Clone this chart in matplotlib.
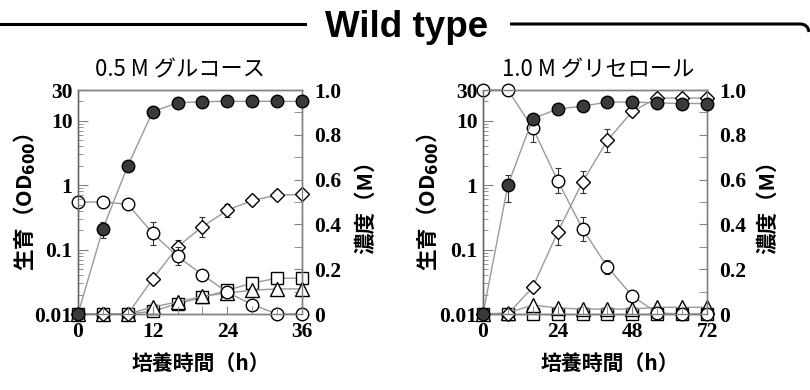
import matplotlib
matplotlib.use('Agg')
import matplotlib.pyplot as plt
import numpy as np
from matplotlib.ticker import LogLocator, MultipleLocator, NullFormatter
from matplotlib.path import Path
from matplotlib.patches import PathPatch

plt.rcParams['font.family'] = ['Noto Sans CJK JP', 'DejaVu Sans']

# ---------------- data: left panel (0.5 M glucose) ----------------
glc_time = [0, 4, 8, 12, 16, 20, 24, 28, 32, 36]
glc_od = [0.01, 0.21, 2.0, 13.8, 19.0, 19.8, 20.0, 20.0, 20.0, 20.0]
glc_od_err = [0, 0.06, 0.15, 0, 0, 0, 0, 0, 0, 0]
glc_circle = [0.50, 0.50, 0.49, 0.36, 0.257, 0.175, 0.097, 0.042, 0.0, 0.0]
glc_circle_err = [0, 0, 0.01, 0.05, 0.04, 0.02, 0.015, 0.02, 0, 0]
glc_diamond = [0.0, 0.0, 0.0, 0.156, 0.30, 0.39, 0.463, 0.507, 0.53, 0.534]
glc_diamond_err = [0, 0, 0, 0.01, 0.03, 0.045, 0.03, 0.02, 0.01, 0.01]
glc_square = [0.0, 0.0, 0.0, 0.012, 0.046, 0.074, 0.106, 0.138, 0.16, 0.16]
glc_triangle = [0.0, 0.0, 0.0, 0.031, 0.054, 0.079, 0.094, 0.106, 0.112, 0.112]

# ---------------- data: right panel (1.0 M glycerol) ----------------
gly_time = [0, 8, 16, 24, 32, 40, 48, 56, 64, 72]
gly_od = [0.01, 1.0, 10.8, 15.2, 16.8, 19.5, 19.5, 18.9, 18.5, 18.5]
gly_od_err = [0, 0.45, 0, 0, 0, 0, 0, 0, 0, 0]
gly_circle = [1.0, 1.0, 0.83, 0.595, 0.38, 0.21, 0.08, 0.005, 0.0, 0.0]
gly_circle_err = [0, 0, 0.06, 0.055, 0.055, 0.03, 0.01, 0, 0, 0]
gly_diamond = [0.0, 0.0, 0.12, 0.365, 0.59, 0.775, 0.905, 0.964, 0.964, 0.964]
gly_diamond_err = [0, 0, 0.01, 0.055, 0.05, 0.05, 0.02, 0, 0, 0]
gly_square = [0.0, 0.0, 0.0, 0.0, 0.0, 0.0, 0.0, 0.0, 0.0, 0.0]
gly_triangle = [0.0, 0.005, 0.04, 0.027, 0.022, 0.022, 0.022, 0.03, 0.03, 0.03]

glc_xticks = [0, 12, 24, 36]
gly_xticks = [0, 24, 48, 72]
od_ticks = [0.01, 0.1, 1, 10, 30]
od_ticklabels = ['0.01', '0.1', '1', '10', '30']
conc_ticks = [0, 0.2, 0.4, 0.6, 0.8, 1.0]
conc_ticklabels = ['0', '0.2', '0.4', '0.6', '0.8', '1.0']

W, H = 810, 390
fig = plt.figure(figsize=(8.1, 3.9), dpi=100)

SPINE = '#808080'
LINE = '#9a9a9a'
TICKFONT = dict(family='Liberation Serif', fontweight='bold', fontsize=15.5)


def errbars(ax, t, y, err, z):
    t = np.asarray(t, float); y = np.asarray(y, float); err = np.asarray(err, float)
    m = err > 0
    if m.any():
        ax.errorbar(t[m], y[m], yerr=err[m], fmt='none', ecolor='#333333',
                    elinewidth=0.8, capsize=2.5, capthick=0.8, zorder=z, clip_on=False)


def panel(left_px, t, od, od_err, circ, circ_err, diam, diam_err, sq, tri,
          xticks, xminor, subtitle, sub_cx):
    ax = fig.add_axes([left_px / W, 76 / H, 224 / W, 224 / H])
    ax2 = ax.twinx()
    ax.set_zorder(ax2.get_zorder() + 1)
    ax.patch.set_visible(False)

    # concentrations (right axis)
    ax2.plot(t, sq, '-', color=LINE, lw=1, marker='s', ms=8.5, mfc='white',
             mec='black', mew=1, zorder=2, clip_on=False)
    ax2.plot(t, tri, '-', color=LINE, lw=1, marker='^', ms=9.5, mfc='white',
             mec='black', mew=1, zorder=3, clip_on=False)
    errbars(ax2, t, diam, diam_err, 3.5)
    ax2.plot(t, diam, '-', color=LINE, lw=1, marker='D', ms=7.5, mfc='white',
             mec='black', mew=1, zorder=4, clip_on=False)
    errbars(ax2, t, circ, circ_err, 4.5)
    ax2.plot(t, circ, '-', color=LINE, lw=1, marker='o', ms=9, mfc='white',
             mec='black', mew=1, zorder=5, clip_on=False)

    # growth (left axis)
    errbars(ax, t, od, od_err, 2.5)
    ax.plot(t, od, '-', color=LINE, lw=1, marker='o', ms=9, mfc='#3a3a3a',
            mec='black', mew=1, zorder=3, clip_on=False)

    ax.set_xlim(t[0], t[-1])
    ax.set_yscale('log')
    ax.set_ylim(0.01, 30)
    ax2.set_ylim(0, 1.0)

    ax.set_xticks(xticks, [str(v) for v in xticks], **TICKFONT)
    ax.xaxis.set_minor_locator(MultipleLocator(xminor))
    ax.set_yticks(od_ticks, od_ticklabels, **TICKFONT)
    ax.yaxis.set_minor_locator(LogLocator(base=10, subs=np.arange(2, 10)))
    ax.yaxis.set_minor_formatter(NullFormatter())
    ax2.set_yticks(conc_ticks, conc_ticklabels, **TICKFONT)
    ax2.yaxis.set_minor_locator(MultipleLocator(0.1))

    ax.tick_params(axis='both', which='both', direction='in', color=SPINE,
                   top=False, right=False)
    ax.tick_params(axis='y', which='major', length=7, pad=4)
    ax.tick_params(axis='y', which='minor', length=3.5)
    ax.tick_params(axis='x', which='both', length=6, pad=6)
    ax2.tick_params(axis='y', which='both', direction='in', color=SPINE,
                    length=6, pad=9)
    for a in (ax, ax2):
        for s in a.spines.values():
            s.set_color(SPINE)
            s.set_linewidth(1)
    ax.spines['left'].set_color('#666666')

    fig.text(sub_cx / W, 1 - 70 / H, subtitle, ha='center', va='center',
             fontsize=16)
    return ax


panel(78, glc_time, glc_od, glc_od_err, glc_circle, glc_circle_err,
      glc_diamond, glc_diamond_err, glc_square, glc_triangle,
      glc_xticks, 4, '0.5 M グルコース', 180)
panel(483, gly_time, gly_od, gly_od_err, gly_circle, gly_circle_err,
      gly_diamond, gly_diamond_err, gly_square, gly_triangle,
      gly_xticks, 8, '1.0 M グリセロール', 598)

# axis titles
for lx, rx, xc in [(25, 366, 201), (428, 768, 610)]:
    fig.text(lx / W, 1 - 202 / H, '生育（OD$_{\\mathbf{600}}$）', rotation=90,
             ha='center', va='center', fontsize=15.5, fontweight='bold')
    fig.text(rx / W, 1 - 202 / H, '濃度（M）', rotation=90,
             ha='center', va='center', fontsize=15.5, fontweight='bold')
    fig.text(xc / W, 1 - 363 / H, '培養時間（h）', ha='center', va='center',
             fontsize=15, fontweight='bold')

# title with frame line
fig.text(407 / W, 1 - 37 / H, 'Wild type', ha='center', va='baseline',
         fontsize=26.5, fontweight='bold', family='Liberation Sans')
ly = 1 - 24 / H
fig.add_artist(plt.Line2D([0, 305 / W], [ly, ly], color='black', lw=2.2,
                          transform=fig.transFigure))
verts = [(510 / W, ly), (800 / W, ly), (808 / W, ly), (809 / W, ly - 8 / H)]
codes = [Path.MOVETO, Path.LINETO, Path.CURVE3, Path.CURVE3]
fig.add_artist(PathPatch(Path(verts, codes), fill=False, lw=2.2,
                         edgecolor='black', transform=fig.transFigure))

fig.savefig('out.png', dpi=100)
